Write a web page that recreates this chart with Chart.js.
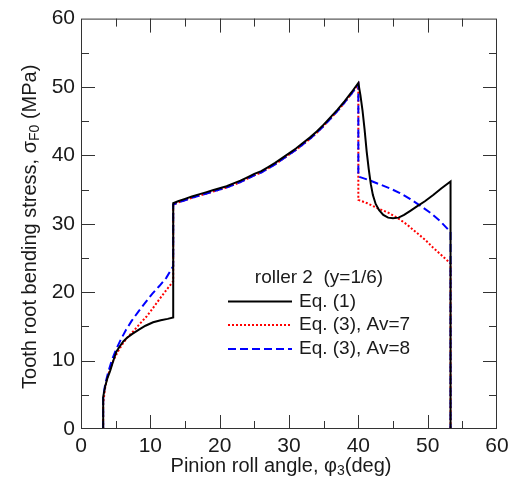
<!DOCTYPE html>
<html>
<head>
<meta charset="utf-8">
<script src="https://cdn.jsdelivr.net/npm/chart.js@4.4.1/dist/chart.umd.min.js"></script>
<style>
  html, body { margin: 0; padding: 0; background: #fff; }
  #wrap { width: 515px; height: 488px; position: relative; }
</style>
</head>
<body>
<div id="wrap"><canvas id="stressChart" width="515" height="488"></canvas></div>
<script>
// Eq. (1), solid black
const eq1Angle  = [3.2, 3.2, 3.5, 3.8, 4.2, 4.6, 5.1, 5.6, 6.1, 6.6, 7.4, 8.3, 9.3, 10.4, 11.5, 12.5, 13.3,
                   13.3, 14, 15, 16, 17, 18, 19, 20, 21, 22, 23, 24, 25, 26, 27, 28, 29, 30, 31, 32, 33, 34, 35, 36, 37, 38, 39, 40,
                   40.3, 40.6, 40.9, 41.2, 41.5, 41.8, 42.1, 42.5, 43.0, 43.6, 44.3, 45.0, 45.8, 46.6, 47.5, 48.4, 49.6, 50.8, 52.0, 53.3, 53.3];
const eq1Stress = [0, 4.7, 6.3, 7.4, 8.5, 9.8, 11.3, 12.1, 12.8, 13.3, 13.9, 14.5, 15.1, 15.6, 15.9, 16.1, 16.3,
                   33.0, 33.3, 33.65, 34.0, 34.3, 34.6, 34.9, 35.2, 35.5, 35.9, 36.3, 36.8, 37.3, 37.7, 38.3, 38.9, 39.6, 40.3, 41.0, 41.8, 42.6, 43.5, 44.5, 45.6, 46.7, 47.9, 49.2, 50.6,
                   48.8, 46.6, 43.8, 40.6, 38.0, 35.8, 34.2, 32.9, 32.0, 31.3, 30.9, 30.8, 30.9, 31.3, 31.9, 32.5, 33.3, 34.2, 35.2, 36.2, 0];

// Eq. (3), Av=7, red dotted
const av7Angle  = [3.2, 3.2, 3.45, 3.7, 4.1, 4.67, 5.3, 6.1, 6.8, 7.55, 8.5, 9.5, 10.4, 11.4, 12.3, 13.3,
                   13.3, 14, 15, 16, 17, 18, 19, 20, 21, 22, 23, 24, 25, 26, 27, 28, 29, 30, 31, 32, 33, 34, 35, 36, 37, 38, 39, 40,
                   40, 41.3, 42.7, 44.2, 45.6, 47, 48.4, 49.6, 50.8, 52, 53.3, 53.3];
const av7Stress = [0, 3.7, 5.8, 7.1, 8.5, 10.0, 11.3, 12.6, 13.5, 14.3, 15.4, 16.5, 17.7, 19.1, 20.3, 21.6,
                   32.8, 33.1, 33.45, 33.8, 34.1, 34.4, 34.7, 35.0, 35.3, 35.7, 36.1, 36.6, 37.1, 37.5, 38.1, 38.7, 39.4, 40.1, 40.8, 41.6, 42.4, 43.3, 44.3, 45.4, 46.5, 47.7, 49.0, 50.4,
                   33.5, 33.0, 32.3, 31.7, 30.9, 29.9, 28.7, 27.7, 26.5, 25.4, 24.2, 0];

// Eq. (3), Av=8, blue dashed
const av8Angle  = [3.2, 3.2, 3.5, 3.9, 4.4, 5.0, 5.7, 6.5, 7.3, 8.3, 9.3, 10.3, 11.3, 12.3, 13.3,
                   13.3, 14, 15, 16, 17, 18, 19, 20, 21, 22, 23, 24, 25, 26, 27, 28, 29, 30, 31, 32, 33, 34, 35, 36, 37, 38, 39, 40,
                   40, 41.5, 43, 44.5, 46, 47.5, 49, 50.4, 51.8, 53.3, 53.3];
const av8Stress = [0, 4.7, 6.6, 8.2, 9.9, 11.5, 13.0, 14.5, 15.8, 17.2, 18.5, 19.8, 20.9, 22.1, 23.8,
                   32.8, 33.1, 33.45, 33.8, 34.1, 34.4, 34.7, 35.0, 35.3, 35.7, 36.1, 36.6, 37.1, 37.5, 38.1, 38.7, 39.4, 40.1, 40.8, 41.6, 42.4, 43.3, 44.3, 45.4, 46.5, 47.7, 49.0, 50.4,
                   36.9, 36.4, 35.8, 35.2, 34.5, 33.6, 32.6, 31.6, 30.4, 28.8, 0];

const xTicks = [0, 10, 20, 30, 40, 50, 60];
const yTicks = [0, 10, 20, 30, 40, 50, 60];
const legendTitle = 'roller 2  (y=1/6)';
const seriesLabels = ['Eq. (1)', 'Eq. (3), Av=7', 'Eq. (3), Av=8'];

const FONT = '"Liberation Sans", Arial, sans-serif';
const TEXT = '#1a1a1a';

function pairs(xs, ys) {
    return xs.map((x, i) => ({ x: x, y: ys[i] }));
}

// frame with inward ticks on all four sides
const framePlugin = {
    id: 'frame',
    afterDraw(chart) {
        const { ctx, chartArea: a, scales } = chart;
        ctx.save();
        ctx.strokeStyle = '#333';
        ctx.lineWidth = 1;
        ctx.strokeRect(a.left + 0.5, a.top + 0.5, a.right - a.left - 1, a.bottom - a.top - 1);
        ctx.beginPath();
        for (let v = 5; v < 60; v += 5) {
            const len = v % 10 === 0 ? 14 : 8;
            const px = Math.round(scales.x.getPixelForValue(v)) + 0.5;
            ctx.moveTo(px, a.bottom); ctx.lineTo(px, a.bottom - len);
            ctx.moveTo(px, a.top); ctx.lineTo(px, a.top + len);
            const py = Math.round(scales.y.getPixelForValue(v)) + 0.5;
            ctx.moveTo(a.left, py); ctx.lineTo(a.left + len, py);
            ctx.moveTo(a.right, py); ctx.lineTo(a.right - len, py);
        }
        ctx.stroke();
        ctx.restore();
    }
};

// axis titles with subscripts
function drawWithSub(ctx, parts, x, y) {
    let total = 0;
    parts.forEach(p => {
        ctx.font = (p[1] ? '14px ' : '20px ') + FONT;
        total += ctx.measureText(p[0]).width;
    });
    let cx = x - total / 2;
    parts.forEach(p => {
        ctx.font = (p[1] ? '14px ' : '20px ') + FONT;
        ctx.fillText(p[0], cx, p[1] ? y + 5 : y);
        cx += ctx.measureText(p[0]).width;
    });
}

const titlePlugin = {
    id: 'axisTitles',
    afterDraw(chart) {
        const { ctx, chartArea: a } = chart;
        ctx.save();
        ctx.fillStyle = TEXT;
        ctx.textBaseline = 'middle';
        ctx.textAlign = 'left';
        drawWithSub(ctx, [['Pinion roll angle, \u03C6', false], ['3', true], ['(deg)', false]],
            (a.left + a.right) / 2 - 8, 466);
        ctx.translate(30, (a.top + a.bottom) / 2 + 3);
        ctx.rotate(-Math.PI / 2);
        drawWithSub(ctx, [['Tooth root bending stress, \u03C3', false], ['F0', true], [' (MPa)', false]], 0, 0);
        ctx.restore();
    }
};

const legendPlugin = {
    id: 'innerLegend',
    afterDatasetsDraw(chart) {
        const { ctx } = chart;
        ctx.save();
        ctx.fillStyle = TEXT;
        ctx.font = '19px ' + FONT;
        ctx.textBaseline = 'middle';
        ctx.textAlign = 'center';
        ctx.fillText(legendTitle, 319, 278);
        ctx.textAlign = 'left';
        const rows = [301.5, 325, 349];
        chart.data.datasets.forEach(ds => {
            const idx = ds.legendRow;
            const y = rows[idx];
            ctx.beginPath();
            ctx.strokeStyle = ds.borderColor;
            ctx.lineWidth = ds.borderWidth;
            ctx.setLineDash(ds.borderDash || []);
            ctx.moveTo(228, y);
            ctx.lineTo(292, y);
            ctx.stroke();
            ctx.setLineDash([]);
            ctx.fillText(seriesLabels[idx], 299, y);
        });
        ctx.restore();
    }
};

new Chart(document.getElementById('stressChart'), {
    type: 'line',
    data: {
        datasets: [
            { label: seriesLabels[0], legendRow: 0, data: pairs(eq1Angle, eq1Stress), borderColor: '#000000', borderWidth: 2, tension: 0, pointRadius: 0 },
            { label: seriesLabels[2], legendRow: 2, data: pairs(av8Angle, av8Stress), borderColor: '#0000ff', borderWidth: 2, borderDash: [8, 4], tension: 0, pointRadius: 0 },
            { label: seriesLabels[1], legendRow: 1, data: pairs(av7Angle, av7Stress), borderColor: '#ff0000', borderWidth: 2, borderDash: [2, 2], tension: 0, pointRadius: 0 }
        ]
    },
    options: {
        responsive: false,
        animation: false,
        layout: { padding: { top: 13, right: 18, left: 0, bottom: 0 } },
        plugins: { legend: { display: false }, tooltip: { enabled: false } },
        scales: {
            x: {
                type: 'linear', min: 0, max: 60,
                grid: { display: false, drawTicks: false },
                border: { display: false },
                afterBuildTicks: s => { s.ticks = xTicks.map(v => ({ value: v })); },
                afterFit: s => { s.height = 59; },
                ticks: { padding: 5, color: TEXT, font: { family: FONT, size: 21 } }
            },
            y: {
                type: 'linear', min: 0, max: 60,
                grid: { display: false, drawTicks: false },
                border: { display: false },
                afterBuildTicks: s => { s.ticks = yTicks.map(v => ({ value: v })); },
                afterFit: s => { s.width = 81; },
                ticks: { padding: 6, color: TEXT, font: { family: FONT, size: 21 } }
            }
        }
    },
    plugins: [framePlugin, titlePlugin, legendPlugin]
});
</script>
</body>
</html>
